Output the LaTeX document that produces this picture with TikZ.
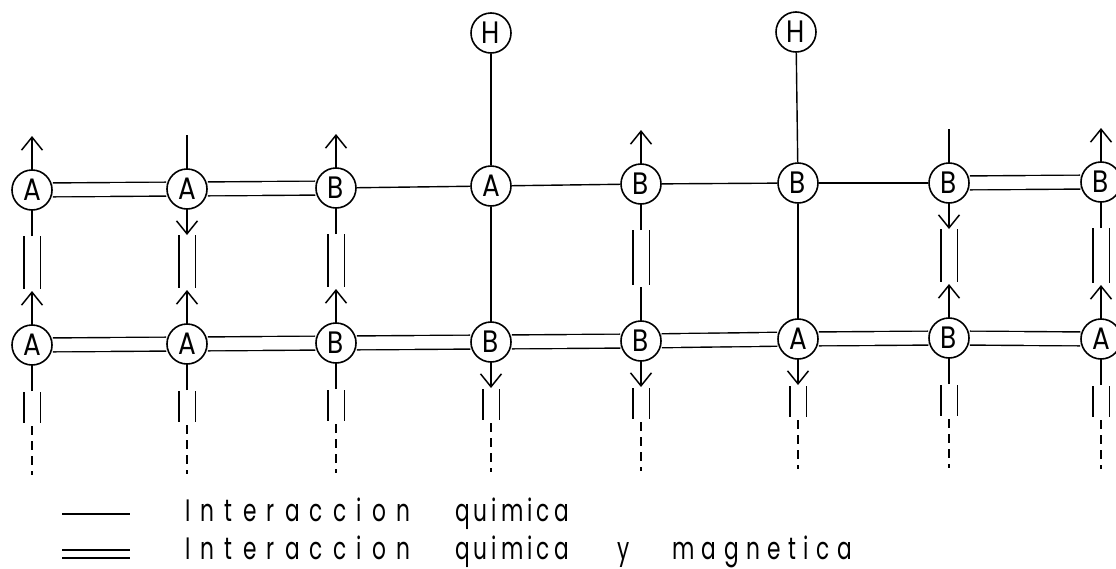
\documentclass[tikz,border=0pt]{standalone}
\usepackage{fontspec}
\setmainfont{Poppins}
\newfontfamily\atomfont[FakeStretch=0.85]{Poppins}
\newfontfamily\legA[FakeStretch=0.7,LetterSpace=33]{Poppins}
\newfontfamily\legB[FakeStretch=0.7,LetterSpace=13]{Poppins}
\newfontfamily\legC[FakeStretch=0.7,LetterSpace=24]{Poppins}
\usetikzlibrary{arrows.meta,calc}
\pgfdeclarelayer{bg}
\pgfsetlayers{bg,main}
\begin{document}
\begin{tikzpicture}[x=1pt,y=-1pt,
  atom/.style={circle,draw,line width=1.6pt,fill=white,minimum size=40pt,inner sep=0pt,
    font=\atomfont\fontsize{31}{31}\selectfont},
  chem/.style={line width=1.4pt},
  mag/.style={double,double distance=12.5pt,line width=1.4pt},
  vmag/.style={double,double distance=15pt,line width=1.4pt},
  lmag/.style={double,double distance=6.5pt,line width=1.4pt},
  spin/.style={line width=1.5pt,-{Straight Barb[length=13pt,width=21pt,line width=1.5pt]}},
  dsh/.style={line width=1.4pt,dash pattern=on 9pt off 6pt},
  leg/.style={anchor=base west,inner sep=0pt,font=\fontsize{31}{31}\selectfont}]
\useasboundingbox (0,0) rectangle (1116,568);

% atoms
\foreach \i/\x/\yt/\yb/\lt/\lb in {1/32/190/345/A/A,2/187/189/344/A/A,3/336/188/343/B/B,
  4/491/186/342/A/B,5/641/184/341/B/B,6/798/183/339/B/A,7/949/183/338/B/B,8/1101/182/339/B/A}{
  \node[atom] (t\i) at (\x,\yt) {\lt};
  \node[atom] (b\i) at (\x,\yb) {\lb};
}
\node[atom] (h1) at (491,33) {H};
\node[atom] (h2) at (796,32) {H};

\begin{pgfonlayer}{bg}
% horizontal bonds
\draw[mag] (t1) -- (t2);
\draw[mag] (t2) -- (t3);
\draw[chem] (t3) -- (t4);
\draw[chem] (t4) -- (t5);
\draw[chem] (t5) -- (t6);
\draw[chem] (t6) -- (t7);
\draw[mag] (t7) -- (t8);
\foreach \i/\j in {1/2,2/3,3/4,4/5,5/6,6/7,7/8}{
  \draw[mag] (b\i) -- (b\j);
}
% vertical chemical bonds
\draw[chem] (h1) -- (t4);
\draw[chem] (t4) -- (b4);
\draw[chem] (h2) -- (t6);
\draw[chem] (t6) -- (b6);
% vertical magnetic bonds between rows
\foreach \i in {1,2,3,5,7,8}{
  \coordinate (vu\i) at ($(t\i.center)+(0,46)$);
  \coordinate (vl\i) at ($(b\i.center)+(0,-56)$);
  \draw[vmag] (vu\i) -- (vl\i);
}
% bonds below the lower row
\foreach \i in {1,...,8}{
  \coordinate (da\i) at ($(b\i.center)+(0,47)$);
  \coordinate (db\i) at ($(b\i.center)+(0,78)$);
  \coordinate (dc\i) at ($(b\i.center)+(0,81)$);
  \coordinate (dd\i) at ($(b\i.center)+(0,130)$);
  \draw[vmag] (da\i) -- (db\i);
  \draw[dsh] (dc\i) -- (dd\i);
}
% spins (1 up, -1 down)
\foreach \n/\s in {t1/1,t2/-1,t3/1,t5/1,t7/-1,t8/1,b1/1,b2/1,b3/1,b4/-1,b5/-1,b6/-1,b7/1,b8/1}{
  \coordinate (\n s0) at ($(\n.center)+(0,-4+50*\s)$);
  \coordinate (\n s1) at ($(\n.center)+(0,-4-50*\s)$);
  \draw[spin] (\n s0) -- (\n s1);
}
\end{pgfonlayer}

% legend
\coordinate (la) at (62,514);
\coordinate (lb) at (130,514);
\draw[chem] (la) -- (lb);
\coordinate (lc) at (62,554);
\coordinate (ld) at (130,554);
\draw[lmag] (lc) -- (ld);
\node[leg] (w1) at (185,521) {\legA Interaccion};
\node[leg] (w2) at (455,521) {\legB quimica};
\node[leg] (w3) at (185,559) {\legA Interaccion};
\node[leg] (w4) at (455,559) {\legB quimica};
\node[leg] (w5) at (617,559) {\legB y};
\node[leg] (w6) at (672,559) {\legC magnetica};
\end{tikzpicture}
\end{document}
